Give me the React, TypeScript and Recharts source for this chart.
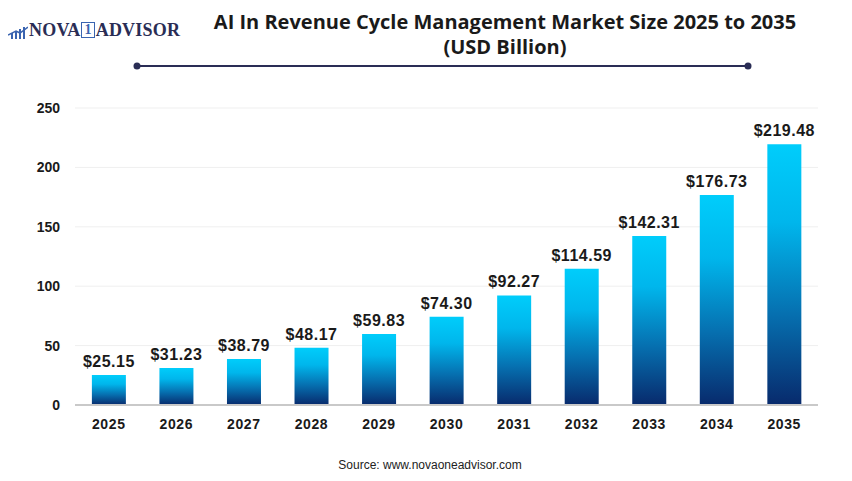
import { Bar, BarChart, CartesianGrid, LabelList, XAxis, YAxis } from "recharts";

const years = ["2025", "2026", "2027", "2028", "2029", "2030", "2031", "2032", "2033", "2034", "2035"];
const marketSize = [25.15, 31.23, 38.79, 48.17, 59.83, 74.3, 92.27, 114.59, 142.31, 176.73, 219.48];
const yTicks = [0, 50, 100, 150, 200, 250];

const colors = {
  navy: "#2a2d55",
  text: "#1a1a1a",
  grid: "#efefef",
  axis: "#c9c9c9"
};

const font = "'Liberation Sans', Arial, sans-serif";

const chartData = years.map((year, i) => ({ year, value: marketSize[i] }));

function Logo() {
  return (
    <div style={{ position: "absolute", left: 8, top: 20, display: "flex", alignItems: "center" }}>
      <svg width={20} height={16} viewBox="0 0 20 16">
        {[3, 7, 11, 15].map((x, i) => (
          <rect key={x} x={x} y={10 - i * 2} width={2} height={6 + i * 2} fill="#3a64b0" />
        ))}
        <path d="M0 12 L8 8 L12 10 L20 4" stroke="#3a64b0" strokeWidth={1.5} fill="none" />
      </svg>
      <span
        style={{
          fontFamily: "'Liberation Serif', 'DejaVu Serif', serif",
          fontWeight: 700,
          fontSize: 18,
          color: colors.navy,
          letterSpacing: 0.2,
          marginLeft: 1
        }}
      >
        NOVA
        <span
          style={{
            display: "inline-block",
            border: "1px solid #3a64b0",
            color: "#3a64b0",
            fontSize: 14,
            lineHeight: "14px",
            padding: "0 2px",
            margin: "0 1px",
            verticalAlign: 2
          }}
        >
          1
        </span>
        ADVISOR
      </span>
    </div>
  );
}

export default function App() {
  return (
    <div
      style={{
        position: "fixed",
        left: 0,
        top: 0,
        width: 852,
        height: 481,
        background: "#ffffff",
        fontFamily: font,
        overflow: "hidden"
      }}
    >
      <Logo />
      <div
        style={{
          position: "absolute",
          left: 155,
          width: 700,
          top: 9,
          textAlign: "center",
          fontFamily: "'Open Sans', sans-serif",
          fontWeight: 700,
          fontSize: 20,
          lineHeight: "25px",
          color: colors.text
        }}
      >
        AI In Revenue Cycle Management Market Size 2025 to 2035
        <br />
        (USD Billion)
      </div>
      <svg style={{ position: "absolute", left: 0, top: 0 }} width={852} height={80}>
        <line x1={137} y1={66} x2={748} y2={66} stroke={colors.navy} strokeWidth={2} />
        <circle cx={137} cy={66} r={3.5} fill={colors.navy} />
        <circle cx={748} cy={66} r={3.5} fill={colors.navy} />
      </svg>

      <div style={{ position: "absolute", left: 0, top: 0 }}>
        <BarChart
          width={852}
          height={481}
          data={chartData}
          margin={{ top: 108, right: 34, bottom: 46, left: 0 }}
          barCategoryGap="25%"
        >
          <defs>
            <linearGradient id="barFill" x1="0" y1="0" x2="0" y2="1">
              <stop offset="0%" stopColor="#00cdfb" />
              <stop offset="30%" stopColor="#00b6ec" />
              <stop offset="65%" stopColor="#0670b0" />
              <stop offset="100%" stopColor="#082a6c" />
            </linearGradient>
          </defs>
          <CartesianGrid vertical={false} stroke={colors.grid} />
          <XAxis
            dataKey="year"
            axisLine={{ stroke: colors.axis, strokeWidth: 2 }}
            tickLine={false}
            tickMargin={8}
            height={30}
            tick={{ fontSize: 14, fontWeight: 700, fill: colors.text, fontFamily: font, letterSpacing: 0.6 }}
          />
          <YAxis
            domain={[0, 250]}
            ticks={yTicks}
            axisLine={false}
            tickLine={false}
            tickMargin={9}
            width={75}
            tick={{ fontSize: 14, fontWeight: 700, fill: colors.text, fontFamily: font }}
          />
          <Bar dataKey="value" fill="url(#barFill)" isAnimationActive={false}>
            <LabelList
              dataKey="value"
              position="top"
              offset={8}
              formatter={(v: number) => `$${v.toFixed(2)}`}
              style={{ fontSize: 16, fontWeight: 700, fill: colors.text, fontFamily: font, letterSpacing: 0.5 }}
            />
          </Bar>
        </BarChart>
      </div>

      <div
        style={{
          position: "absolute",
          left: 0,
          width: 860,
          top: 458,
          textAlign: "center",
          fontSize: 12,
          color: "#222222"
        }}
      >
        Source: www.novaoneadvisor.com
      </div>
    </div>
  );
}
